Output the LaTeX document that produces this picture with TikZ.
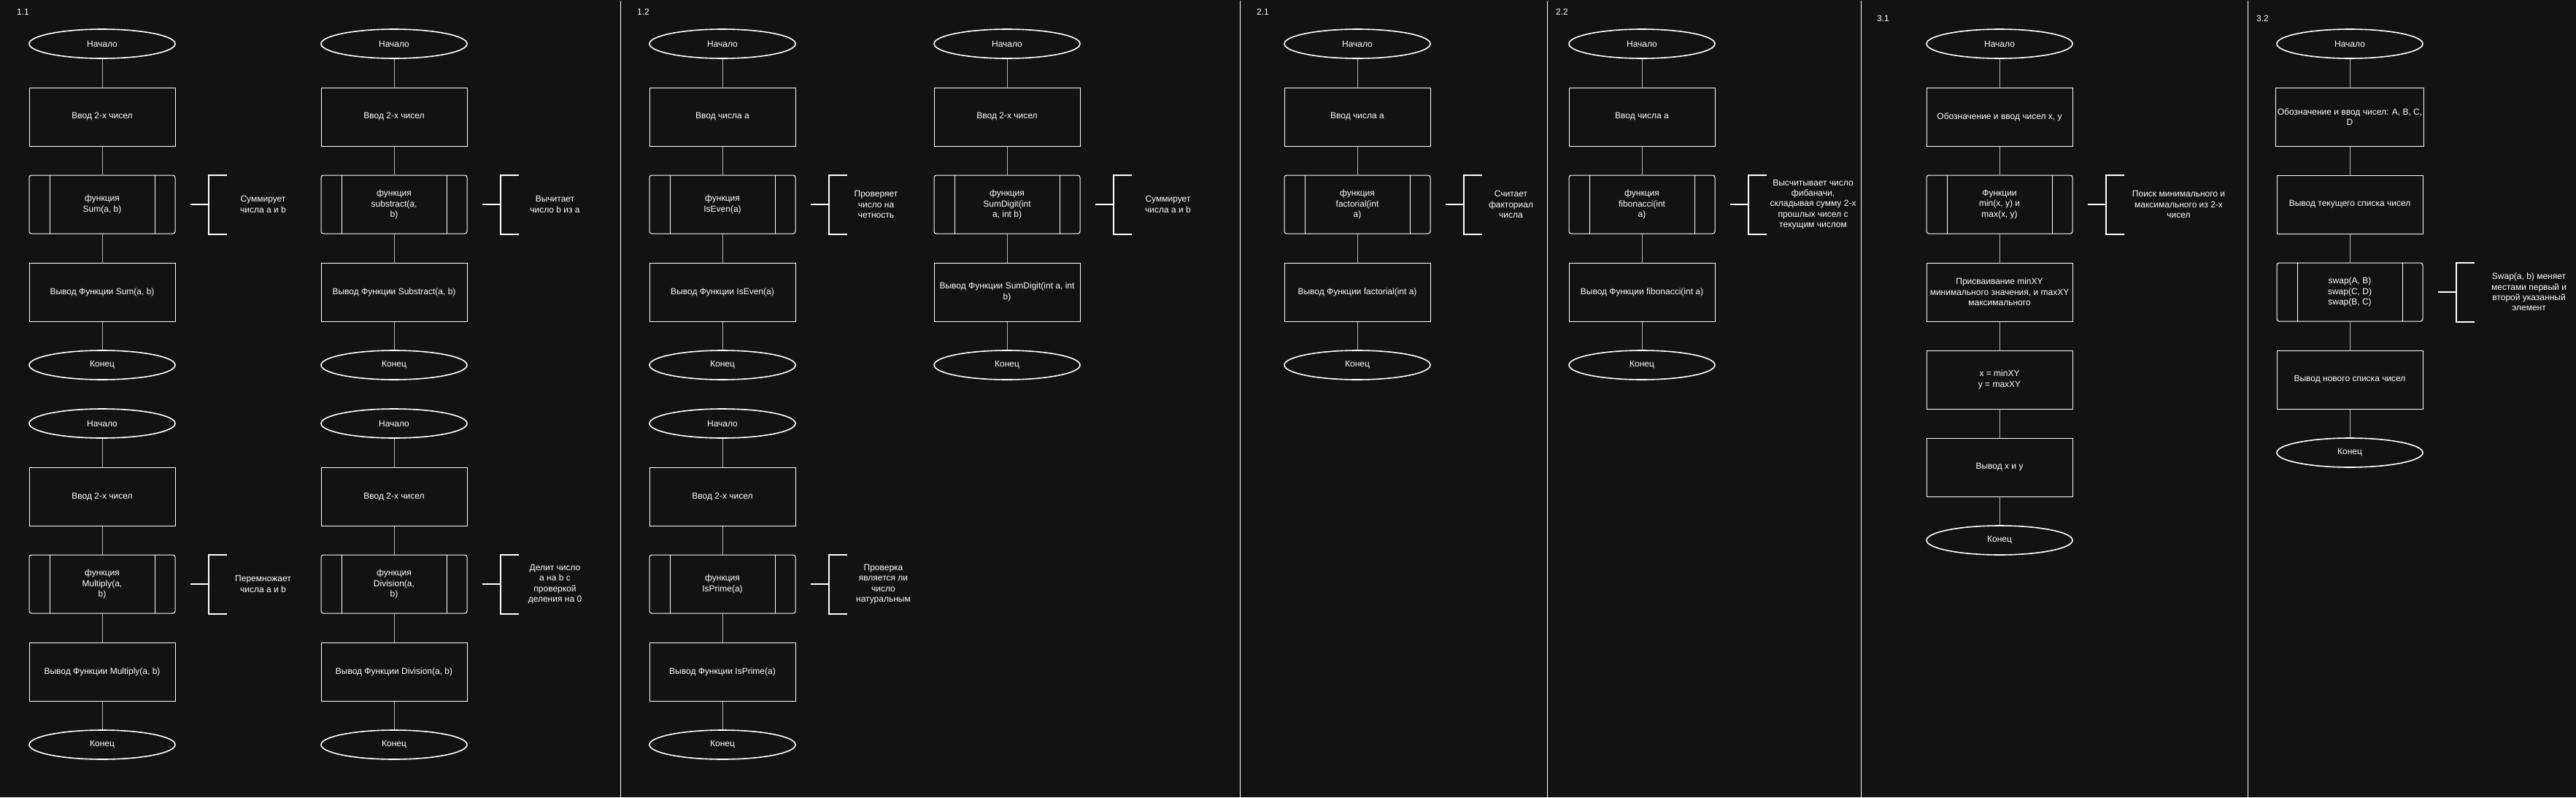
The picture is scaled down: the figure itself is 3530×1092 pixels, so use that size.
\documentclass[tikz,border=0pt]{standalone}
\usepackage{fontspec}
\setmainfont{Liberation Sans}
\usetikzlibrary{shapes.geometric}
\definecolor{bg}{HTML}{121212}
\definecolor{linkgray}{HTML}{B4B4B4}
\tikzset{
  chartfont/.style={font=\fontsize{12}{14.4}\selectfont, text=white, align=center, inner sep=2pt},
  startstop/.style={chartfont, ellipse, draw=white, line width=1.6pt, minimum width=200pt, minimum height=40pt},
  procbox/.style={chartfont, rectangle, draw=white, line width=1pt, minimum width=200pt, minimum height=80pt},
  subbox/.style={procbox, rounded corners=3pt,
    path picture={
      \draw[white, line width=1pt] ([xshift=28pt]path picture bounding box.north west) -- ([xshift=28pt]path picture bounding box.south west);
      \draw[white, line width=1pt] ([xshift=-28pt]path picture bounding box.north east) -- ([xshift=-28pt]path picture bounding box.south east);
    }},
  link/.style={draw=linkgray, line width=1pt},
  brace/.style={draw=white, line width=2pt},
  note/.style={chartfont},
  sep/.style={draw=white, line width=1pt}
}
% annotation bracket next to a function box
\newcommand{\notebrace}[1]{%
  \draw[brace] ([xshift=20pt]#1.east) -- ([xshift=45pt]#1.east);
  \draw[brace] ([xshift=70pt]#1.north east) -- ([xshift=45pt]#1.north east) -- ([xshift=45pt]#1.south east) -- ([xshift=70pt]#1.south east);}
\begin{document}
\begin{tikzpicture}[x=1pt, y=-1pt]
\fill[bg] (0,0) rectangle (3530,1092);
\useasboundingbox (0,0) rectangle (3530,1092);

% separators
\foreach \sx in {850.5, 1699.5, 2120.5, 2550.5, 3080.5}
  \draw[sep] (\sx,1) -- (\sx,1092);

% titles
\node[chartfont, anchor=west] (lab11) at (21,16) {1.1};
\node[chartfont, anchor=west] (lab12) at (871,16) {1.2};
\node[chartfont, anchor=west] (lab21) at (1720,16) {2.1};
\node[chartfont, anchor=west] (lab22) at (2130,16) {2.2};
\node[chartfont, anchor=west] (lab31) at (2570,25.5) {3.1};
\node[chartfont, anchor=west] (lab32) at (3090,25.5) {3.2};

% 1.1 Sum
\node[startstop] (s11a) at (140,60) {Начало};
\node[procbox] (in11a) at (140,160) {Ввод 2-х чисел};
\node[subbox] (f11a) at (140,280) {функция\\Sum(a, b)};
\node[procbox] (out11a) at (140,400) {Вывод Функции Sum(a, b)};
\node[startstop] (e11a) at (140,500) {Конец};
\node[note] (n11a) at ([xshift=120pt]f11a.east) {Суммирует\\числа a и b};
\notebrace{f11a}

% 1.1 Substract
\node[startstop] (s11b) at (540,60) {Начало};
\node[procbox] (in11b) at (540,160) {Ввод 2-х чисел};
\node[subbox] (f11b) at (540,280) {функция\\substract(a,\\b)};
\node[procbox] (out11b) at (540,400) {Вывод Функции Substract(a, b)};
\node[startstop] (e11b) at (540,500) {Конец};
\node[note] (n11b) at ([xshift=120pt]f11b.east) {Вычитает\\число b из a};
\notebrace{f11b}

% 1.1 Multiply
\node[startstop] (s11c) at (140,580) {Начало};
\node[procbox] (in11c) at (140,680) {Ввод 2-х чисел};
\node[subbox] (f11c) at (140,800) {функция\\Multiply(a,\\b)};
\node[procbox] (out11c) at (140,920) {Вывод Функции Multiply(a, b)};
\node[startstop] (e11c) at (140,1020) {Конец};
\node[note] (n11c) at ([xshift=120pt]f11c.east) {Перемножает\\числа a и b};
\notebrace{f11c}

% 1.1 Division
\node[startstop] (s11d) at (540,580) {Начало};
\node[procbox] (in11d) at (540,680) {Ввод 2-х чисел};
\node[subbox] (f11d) at (540,800) {функция\\Division(a,\\b)};
\node[procbox] (out11d) at (540,920) {Вывод Функции Division(a, b)};
\node[startstop] (e11d) at (540,1020) {Конец};
\node[note] (n11d) at ([xshift=120pt]f11d.east) {Делит число\\а на b с\\проверкой\\деления на 0};
\notebrace{f11d}

% 1.2 IsEven
\node[startstop] (s12a) at (990,60) {Начало};
\node[procbox] (in12a) at (990,160) {Ввод числа a};
\node[subbox] (f12a) at (990,280) {функция\\IsEven(a)};
\node[procbox] (out12a) at (990,400) {Вывод Функции IsEven(a)};
\node[startstop] (e12a) at (990,500) {Конец};
\node[note] (n12a) at ([xshift=110pt]f12a.east) {Проверяет\\число на\\четность};
\notebrace{f12a}

% 1.2 SumDigit
\node[startstop] (s12b) at (1380,60) {Начало};
\node[procbox] (in12b) at (1380,160) {Ввод 2-х чисел};
\node[subbox] (f12b) at (1380,280) {функция\\SumDigit(int\\a, int b)};
\node[procbox] (out12b) at (1380,400) {Вывод Функции SumDigit(int a, int\\b)};
\node[startstop] (e12b) at (1380,500) {Конец};
\node[note] (n12b) at ([xshift=120pt]f12b.east) {Суммирует\\числа a и b};
\notebrace{f12b}

% 1.2 IsPrime
\node[startstop] (s12c) at (990,580) {Начало};
\node[procbox] (in12c) at (990,680) {Ввод 2-х чисел};
\node[subbox] (f12c) at (990,800) {функция\\IsPrime(a)};
\node[procbox] (out12c) at (990,920) {Вывод Функции IsPrime(a)};
\node[startstop] (e12c) at (990,1020) {Конец};
\node[note] (n12c) at ([xshift=120pt]f12c.east) {Проверка\\является ли\\число\\натуральным};
\notebrace{f12c}

% 2.1 factorial
\node[startstop] (s21) at (1860,60) {Начало};
\node[procbox] (in21) at (1860,160) {Ввод числа a};
\node[subbox] (f21) at (1860,280) {функция\\factorial(int\\a)};
\node[procbox] (out21) at (1860,400) {Вывод Функции factorial(int a)};
\node[startstop] (e21) at (1860,500) {Конец};
\node[note] (n21) at ([xshift=110pt]f21.east) {Считает\\факториал\\числа};
\notebrace{f21}

% 2.2 fibonacci
\node[startstop] (s22) at (2250,60) {Начало};
\node[procbox] (in22) at (2250,160) {Ввод числа a};
\node[subbox] (f22) at (2250,280) {функция\\fibonacci(int\\a)};
\node[procbox] (out22) at (2250,400) {Вывод Функции fibonacci(int a)};
\node[startstop] (e22) at (2250,500) {Конец};
\node[note] (n22) at ([xshift=134pt]f22.east) {Высчитывает число\\фибаначи,\\складывая сумму 2-х\\прошлых чисел с\\текущим числом};
\notebrace{f22}

% 3.1 min / max
\node[startstop] (s31) at (2740,60) {Начало};
\node[procbox] (in31) at (2740,160) {Обозначение и ввод чисел x, y};
\node[subbox] (f31) at (2740,280) {Функции\\min(x, y) и\\max(x, y)};
\node[procbox] (set31) at (2740,400) {Присваивание minXY\\минимального значения, и maxXY\\максимального};
\node[procbox] (asg31) at (2740,520) {x = minXY\\y = maxXY};
\node[procbox] (out31) at (2740,640) {Вывод x и y};
\node[startstop] (e31) at (2740,740) {Конец};
\node[note] (n31) at ([xshift=145pt]f31.east) {Поиск минимального и\\максимального из 2-х\\чисел};
\notebrace{f31}

% 3.2 swap
\node[startstop] (s32) at (3220,60) {Начало};
\node[procbox] (in32) at (3220,160) {Обозначение и ввод чисел: A, B, C,\\D};
\node[procbox] (show32) at (3220,280) {Вывод текущего списка чисел};
\node[subbox] (f32) at (3220,400) {swap(A, B)\\swap(C, D)\\swap(B, C)};
\node[procbox] (out32) at (3220,520) {Вывод нового списка чисел};
\node[startstop] (e32) at (3220,620) {Конец};
\node[note] (n32) at ([xshift=145pt]f32.east) {Swap(a, b) меняет\\местами первый и\\второй указанный\\элемент};
\notebrace{f32}

% connectors
\foreach \a/\b in {s11a/in11a, in11a/f11a, f11a/out11a, out11a/e11a,
                   s11b/in11b, in11b/f11b, f11b/out11b, out11b/e11b,
                   s11c/in11c, in11c/f11c, f11c/out11c, out11c/e11c,
                   s11d/in11d, in11d/f11d, f11d/out11d, out11d/e11d,
                   s12a/in12a, in12a/f12a, f12a/out12a, out12a/e12a,
                   s12b/in12b, in12b/f12b, f12b/out12b, out12b/e12b,
                   s12c/in12c, in12c/f12c, f12c/out12c, out12c/e12c,
                   s21/in21, in21/f21, f21/out21, out21/e21,
                   s22/in22, in22/f22, f22/out22, out22/e22,
                   s31/in31, in31/f31, f31/set31, set31/asg31, asg31/out31, out31/e31,
                   s32/in32, in32/show32, show32/f32, f32/out32, out32/e32}
  \draw[link] (\a) -- (\b);
\end{tikzpicture}
\end{document}
